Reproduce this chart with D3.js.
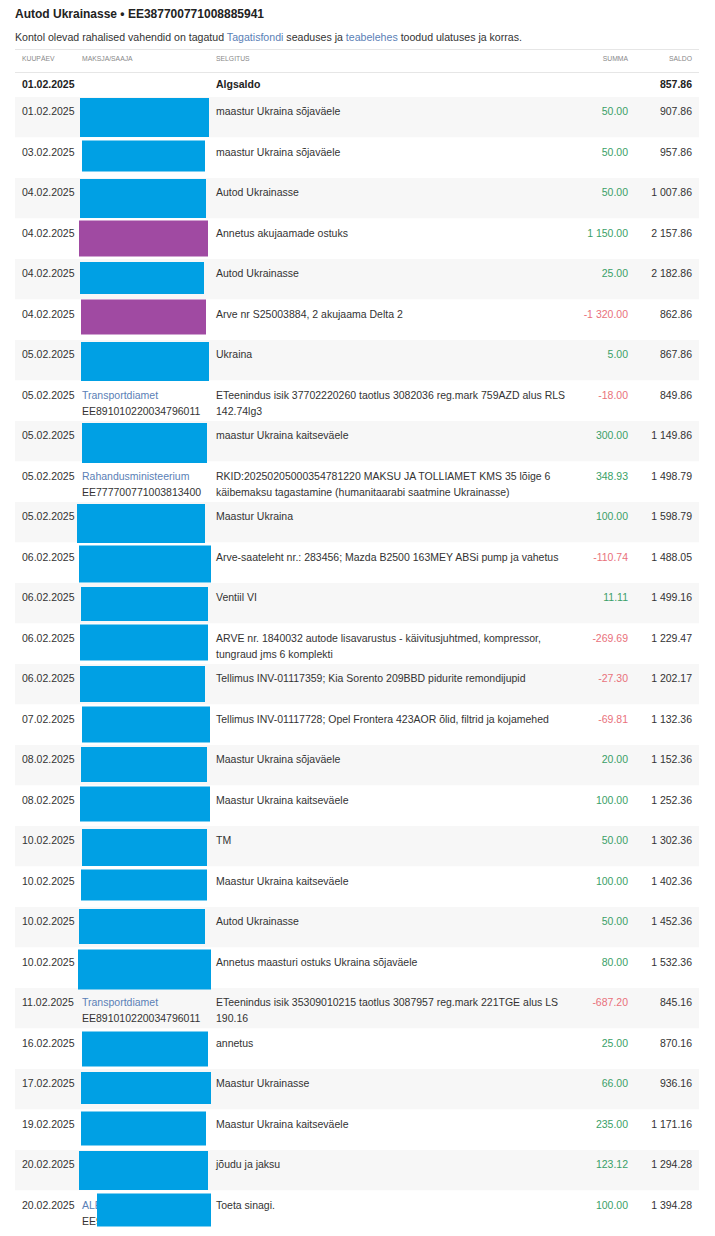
<!DOCTYPE html>
<html>
<head>
<meta charset="utf-8">
<script src="https://cdn.jsdelivr.net/npm/d3@7"></script>
<style>
  body { margin: 0; background: #fff; }
  text { font-family: "Liberation Sans", Arial, sans-serif; }
</style>
</head>
<body>
<div id="container"></div>
<script>
// statement data
const title = "Autod Ukrainasse • EE387700771008885941";
const columns = ["KUUPÄEV", "MAKSJA/SAAJA", "SELGITUS", "SUMMA", "SALDO"];
const openingDate = "01.02.2025";
const openingBalance = 857.86;

const dates = ["01.02.2025","03.02.2025","04.02.2025","04.02.2025","04.02.2025","04.02.2025",
  "05.02.2025","05.02.2025","05.02.2025","05.02.2025","05.02.2025","06.02.2025","06.02.2025",
  "06.02.2025","06.02.2025","07.02.2025","08.02.2025","08.02.2025","10.02.2025","10.02.2025",
  "10.02.2025","10.02.2025","11.02.2025","16.02.2025","17.02.2025","19.02.2025","20.02.2025",
  "20.02.2025"];

const payerNames = ["","","","","","","","Transportdiamet","","Rahandusministeerium","","","",
  "","","","","","","","","","Transportdiamet","","","","","ALEKS"];
const payerIbans = ["","","","","","","","EE891010220034796011","","EE777700771003813400","","",
  "","","","","","","","","","","EE891010220034796011","","","","","EE9900000000000"];

const descriptions = [
  "maastur Ukraina sõjaväele",
  "maastur Ukraina sõjaväele",
  "Autod Ukrainasse",
  "Annetus akujaamade ostuks",
  "Autod Ukrainasse",
  "Arve nr S25003884, 2 akujaama Delta 2",
  "Ukraina",
  "ETeenindus isik 37702220260 taotlus 3082036 reg.mark 759AZD alus RLS 142.74lg3",
  "maastur Ukraina kaitseväele",
  "RKID:20250205000354781220 MAKSU JA TOLLIAMET KMS 35 lõige 6 käibemaksu tagastamine (humanitaarabi saatmine Ukrainasse)",
  "Maastur Ukraina",
  "Arve-saateleht nr.: 283456; Mazda B2500 163MEY ABSi pump ja vahetus",
  "Ventiil VI",
  "ARVE nr. 1840032 autode lisavarustus - käivitusjuhtmed, kompressor, tungraud jms 6 komplekti",
  "Tellimus INV-01117359; Kia Sorento 209BBD pidurite remondijupid",
  "Tellimus INV-01117728; Opel Frontera 423AOR õlid, filtrid ja kojamehed",
  "Maastur Ukraina sõjaväele",
  "Maastur Ukraina kaitseväele",
  "TM",
  "Maastur Ukraina kaitseväele",
  "Autod Ukrainasse",
  "Annetus maasturi ostuks Ukraina sõjaväele",
  "ETeenindus isik 35309010215 taotlus 3087957 reg.mark 221TGE alus LS 190.16",
  "annetus",
  "Maastur Ukrainasse",
  "Maastur Ukraina kaitseväele",
  "jõudu ja jaksu",
  "Toeta sinagi."
];

const amounts = [50, 50, 50, 1150, 25, -1320, 5, -18, 300, 348.93, 100, -110.74, 11.11,
  -269.69, -27.30, -69.81, 20, 100, 50, 100, 50, 80, -687.20, 25, 66, 235, 123.12, 100];

const balances = [907.86, 957.86, 1007.86, 2157.86, 2182.86, 862.86, 867.86, 849.86, 1149.86,
  1498.79, 1598.79, 1488.05, 1499.16, 1229.47, 1202.17, 1132.36, 1152.36, 1252.36, 1302.36,
  1402.36, 1452.36, 1532.36, 845.16, 870.16, 936.16, 1171.16, 1294.28, 1394.28];

// redaction boxes painted over the payer column: [row, left, right, top offset, bottom offset, kind]
const masks = [
  [0, 80, 209, 1, 40, "b"], [1, 82, 205, 3, 34, "b"], [2, 80, 206, 1, 40, "b"],
  [3, 79, 208, 2, 38, "p"], [4, 80, 204, 3, 35, "b"], [5, 81, 206, 0, 35, "p"],
  [6, 81, 209, 2, 41, "b"], [8, 82, 207, 2, 42, "b"], [10, 77, 205, 2, 41, "b"],
  [11, 79, 211, 3, 40, "b"], [12, 81, 208, 4, 38, "b"], [13, 80, 208, 1, 37, "b"],
  [14, 80, 205, 2, 38, "b"], [15, 82, 210, 2, 38, "b"], [16, 81, 207, 2, 37, "b"],
  [17, 80, 210, 1, 36, "b"], [18, 82, 207, 3, 40, "b"], [19, 81, 207, 3, 34, "b"],
  [20, 79, 205, 2, 37, "b"], [21, 78, 211, 2, 42, "b"], [23, 82, 208, 3, 38, "b"],
  [24, 81, 211, 3, 35, "b"], [25, 81, 206, 2, 36, "b"], [26, 79, 208, 1, 40, "b"],
  [27, 97, 211, 3, 36, "b"]
];

const W = 715, H = 1236;
const left = 15, right = 699;
const colX = { date: 22, payer: 82, desc: 216, sum: 628, bal: 692 };
const ink = "#333", grey = "#888", link = "#5a80b6", green = "#3a9f68", red = "#e9717b";
const fs = 10.5;

const fmtLocale = d3.formatLocale({ decimal: ".", thousands: " ", grouping: [3], currency: ["", ""], minus: "-" });
const money = fmtLocale.format(",.2f");

const svg = d3.select("#container").append("svg")
  .attr("width", W).attr("height", H);

// heading
svg.append("text").attr("x", left).attr("y", 18)
  .attr("font-size", 12).attr("font-weight", "bold").attr("fill", "#222")
  .text(title);

const sub = svg.append("text").attr("x", left).attr("y", 41)
  .attr("font-size", 10.6).attr("fill", ink);
sub.append("tspan").text("Kontol olevad rahalised vahendid on tagatud ");
sub.append("tspan").attr("fill", link).text("Tagatisfondi");
sub.append("tspan").text(" seaduses ja ");
sub.append("tspan").attr("fill", link).text("teabelehes");
sub.append("tspan").text(" toodud ulatuses ja korras.");

// header row
const hdrTop = 49, hdrBottom = 72, openBottom = 97;
[hdrTop, hdrBottom, openBottom].forEach(yy => {
  svg.append("line").attr("x1", left).attr("x2", right).attr("y1", yy + 0.5).attr("y2", yy + 0.5)
    .attr("stroke", "#e6e6e6");
});

const hdrX = [colX.date, colX.payer, colX.desc, colX.sum, colX.bal];
svg.selectAll(".hdr").data(columns).enter().append("text")
  .attr("class", "hdr")
  .attr("x", (d, i) => hdrX[i])
  .attr("y", 61)
  .attr("text-anchor", (d, i) => i >= 3 ? "end" : "start")
  .attr("font-size", 6.8).attr("fill", grey)
  .text(d => d);

// opening balance row
svg.append("text").attr("x", colX.date).attr("y", 88).attr("font-size", fs)
  .attr("font-weight", "bold").attr("fill", "#222").text(openingDate);
svg.append("text").attr("x", colX.desc).attr("y", 88).attr("font-size", fs)
  .attr("font-weight", "bold").attr("fill", "#222").text("Algsaldo");
svg.append("text").attr("x", colX.bal).attr("y", 88).attr("font-size", fs)
  .attr("font-weight", "bold").attr("fill", "#222").attr("text-anchor", "end")
  .text(money(openingBalance));

// transaction rows
const rowH = 40.5;
const y = d3.scaleBand()
  .domain(d3.range(dates.length))
  .range([openBottom, openBottom + dates.length * rowH])
  .paddingInner(0);

const rows = svg.selectAll(".row").data(dates).enter().append("g")
  .attr("class", "row")
  .attr("transform", (d, i) => "translate(0," + y(i) + ")");

rows.append("rect")
  .attr("x", left).attr("width", right - left)
  .attr("height", y.bandwidth())
  .attr("fill", (d, i) => i % 2 === 0 ? "#f7f7f7" : "#fff");

rows.append("text")
  .attr("x", colX.date).attr("y", 18).attr("font-size", fs).attr("fill", ink)
  .text(d => d);

rows.append("text")
  .attr("x", colX.payer).attr("y", 18).attr("font-size", fs).attr("fill", link)
  .text((d, i) => payerNames[i]);
rows.append("text")
  .attr("x", colX.payer).attr("y", 34).attr("font-size", fs).attr("fill", ink)
  .text((d, i) => payerIbans[i]);

// description, wrapped to the column width
const descW = 360;
rows.append("text")
  .attr("class", "desc")
  .attr("x", colX.desc).attr("y", 18).attr("font-size", fs).attr("fill", ink)
  .each(function(d, i) {
    const el = d3.select(this);
    const words = descriptions[i].split(" ");
    let line = [];
    let tspan = el.append("tspan").attr("x", colX.desc).attr("y", 18);
    let lineNo = 0;
    words.forEach(w => {
      line.push(w);
      tspan.text(line.join(" "));
      if (tspan.node().getComputedTextLength() > descW && line.length > 1) {
        line.pop();
        tspan.text(line.join(" "));
        line = [w];
        lineNo++;
        tspan = el.append("tspan").attr("x", colX.desc).attr("y", 18 + lineNo * 16).text(w);
      }
    });
  });

rows.append("text")
  .attr("x", colX.sum).attr("y", 18).attr("font-size", fs).attr("text-anchor", "end")
  .attr("fill", (d, i) => amounts[i] < 0 ? red : green)
  .text((d, i) => money(amounts[i]));

rows.append("text")
  .attr("x", colX.bal).attr("y", 18).attr("font-size", fs).attr("text-anchor", "end")
  .attr("fill", ink)
  .text((d, i) => money(balances[i]));

// redaction overlays
svg.selectAll(".mask").data(masks).enter().append("rect")
  .attr("class", "mask")
  .attr("x", m => m[1])
  .attr("width", m => m[2] - m[1])
  .attr("y", m => y(m[0]) + m[3])
  .attr("height", m => m[4] - m[3])
  .attr("fill", m => m[5] === "p" ? "#a04aa2" : "#00a0e4");
</script>
</body>
</html>
